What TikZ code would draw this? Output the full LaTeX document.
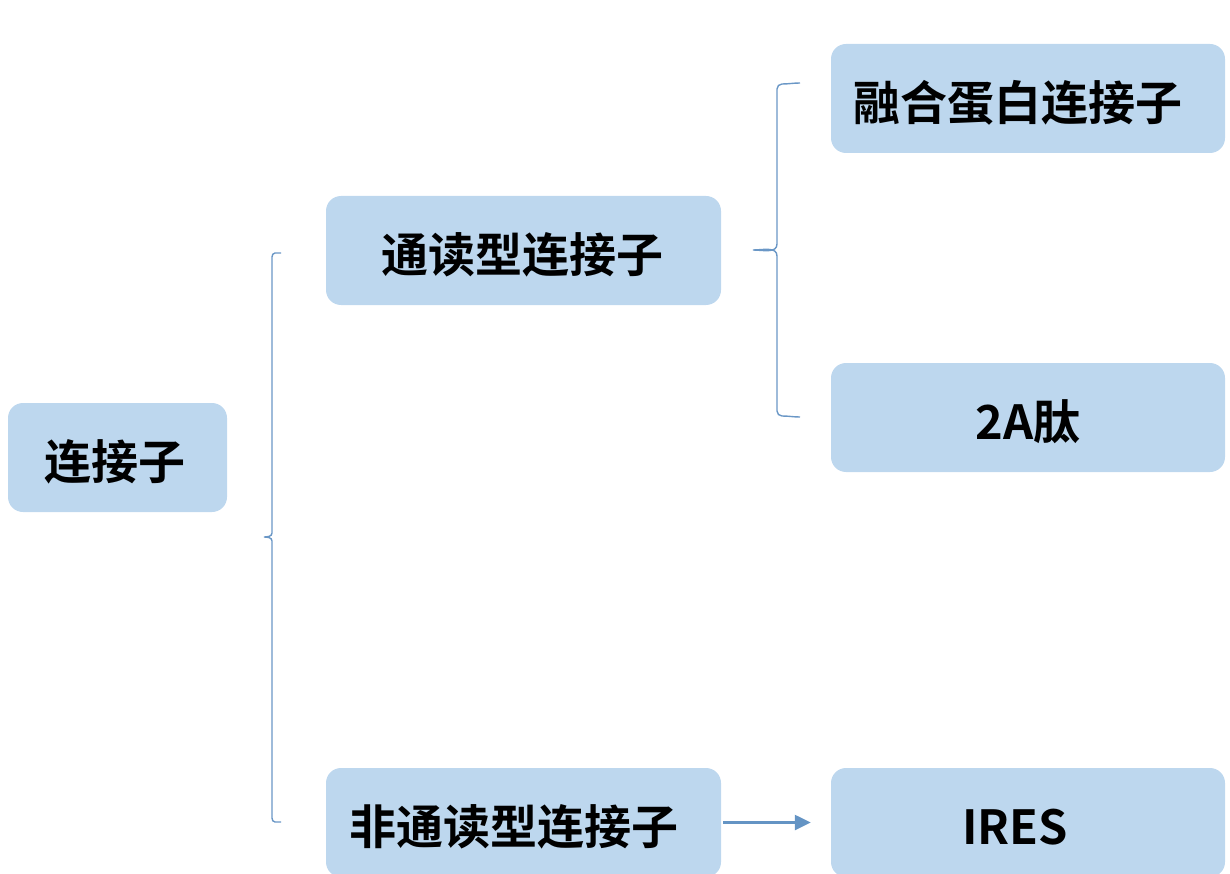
\documentclass[tikz,border=0pt]{standalone}
\usepackage{fontspec}
\newfontfamily\cjk{Noto Sans CJK SC}[BoldFont={Noto Sans CJK SC Bold}]
\usetikzlibrary{arrows.meta}
\definecolor{boxfill}{HTML}{BDD7EE}
\definecolor{bracecol}{HTML}{6A97C6}
\definecolor{arrowcol}{HTML}{6494C4}
\newcommand{\mytxtshift}[2]{\hspace*{-#1}#2}
\tikzset{
  box/.style={rectangle, rounded corners=15pt, fill=boxfill, draw=none,
    minimum height=109pt, inner sep=0pt, text height=50pt, text depth=6pt,
    font=\cjk\bfseries\fontsize{47}{52}\selectfont},
  brace/.style={draw=bracecol, line width=1.4pt},
  link/.style={draw=arrowcol, line width=2.4pt, -{Triangle[length=16pt,width=15pt]}}
}
\begin{document}
\begin{tikzpicture}[x=1pt,y=-1pt]
\useasboundingbox (0,0) rectangle (1230,874);
\begin{scope}
\clip (0,0) rectangle (1230,874);
\node[box, minimum width=219pt] (root) at (117.5,457.5) {\mytxtshift{5pt}{连接子}};
\node[box, minimum width=395pt] (tong) at (523.5,250.5) {\mytxtshift{3pt}{通读型连接子}};
\node[box, minimum width=395pt] (fei) at (523.5,822.5) {\mytxtshift{19pt}{非通读型连接子}};
\node[box, minimum width=394pt] (rong) at (1028,98.5) {\mytxtshift{20pt}{融合蛋白连接子}};
\node[box, minimum width=394pt] (pep) at (1028,417.5) {2A肽};
\node[box, minimum width=394pt] (ires) at (1028,822.5) {\mytxtshift{26pt}{IRES}};
\end{scope}
% left brace
\coordinate (b1t) at (281,253);
\coordinate (b1m) at (264,537);
\coordinate (b1b) at (281,822);
\draw[brace] (b1t) -- (275,253) to[out=180,in=90] (272,257) -- (272,533)
  to[out=-90,in=0] (b1m) to[out=0,in=90] (272,541) -- (272,818)
  to[out=-90,in=180] (275,822) -- (b1b);
% right brace
\coordinate (b2t) at (800,83);
\coordinate (b2m) at (753,250);
\coordinate (b2b) at (800,417);
\draw[brace] (b2t) to[out=180,in=0] (782,84) to[out=180,in=90] (777,89) -- (777,244)
  to[out=-90,in=0] (b2m) to[out=0,in=90] (777,256) -- (777,411)
  to[out=-90,in=180] (782,416) to[out=0,in=180] (b2b);
% arrow
\draw[link, shorten <=2pt, shorten >=20pt] (fei.east) -- (ires.west);
\end{tikzpicture}
\end{document}
